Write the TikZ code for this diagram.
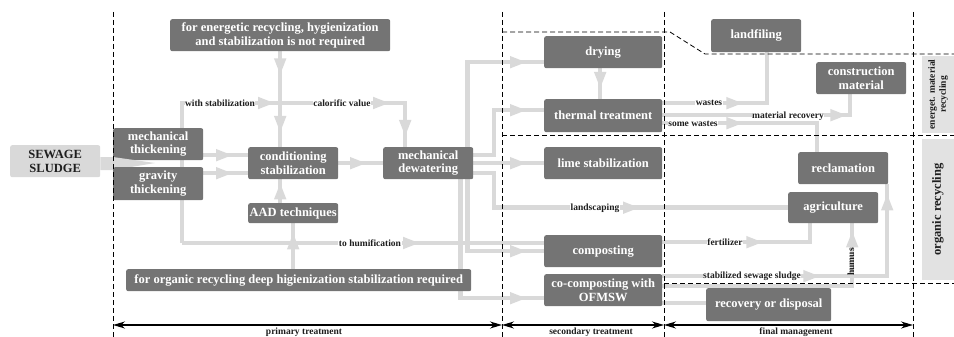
\documentclass[tikz,border=0pt]{standalone}
\usepackage{fontspec}
\setmainfont{Liberation Serif}
\usetikzlibrary{arrows.meta,decorations.markings}
\definecolor{dk}{HTML}{747474}
\definecolor{lg}{HTML}{D9D9D9}
\definecolor{sl}{HTML}{E2E2E2}
\definecolor{tx}{HTML}{1E1E1E}
\pgfdeclarelayer{bg}
\pgfsetlayers{bg,main}
\tikzset{
  box/.style={fill=dk, text=white, rounded corners=2pt, align=center, inner sep=0pt, anchor=north west,
     font=\fontsize{12.5}{13.5}\selectfont\bfseries},
  conn/.style={draw=lg, line width=4.5pt},
  tipat/.style={postaction={decorate,decoration={markings,mark=at position #1 with {\arrow{Triangle[length=17pt,width=11pt,color=lg,fill=lg]}}}}},
  lbl/.style={font=\fontsize{9.5}{10}\selectfont\bfseries, text=tx, fill=white, inner sep=0.5pt},
  dashln/.style={draw=black, line width=0.8pt, dash pattern=on 5pt off 3pt},
  dimar/.style={draw=black, line width=1.4pt, {Stealth[length=12pt,width=7pt]}-{Stealth[length=12pt,width=7pt]}},
  side/.style={fill=sl, text=tx, rotate=90, align=center, inner sep=0pt},
}
\newcommand\bx[6]{\node[box, minimum width=#4pt, minimum height=#5pt] (#1) at (#2,#3) {#6};}
\begin{document}
\begin{tikzpicture}[x=1pt,y=-1pt]
\useasboundingbox (0,0) rectangle (954,337);
% boxes
\bx{en}{170}{19}{220}{32}{for energetic recycling, hygienization\\and stabilization is not required}
\node[box, fill=lg, text=tx, minimum width=90pt, minimum height=32pt] (ss) at (10,145) {SEWAGE\\SLUDGE};
\bx{mt}{113}{128}{90}{32}{mechanical\\thickening}
\fill[lg] ([yshift=4pt]ss.east) -- (113,157) -- (155,163) -- (113,170) -- ([yshift=-9pt]ss.east) -- cycle;
\bx{gt}{113}{167}{90}{33}{gravity\\thickening}
\bx{cs}{248}{147}{90}{32}{conditioning\\stabilization}
\bx{aad}{248}{203}{90}{20}{AAD techniques}
\bx{org}{126}{269}{345}{22}{for organic recycling deep higienization stabilization required}
\bx{dew}{383}{147}{90}{32}{mechanical\\dewatering}
\bx{dry}{544}{36}{118}{32}{drying}
\bx{th}{544}{99}{118}{33}{thermal treatment}
\bx{lime}{544}{147}{118}{32}{lime stabilization}
\bx{comp}{544}{235}{118}{32}{composting}
\bx{cocomp}{544}{274}{118}{32}{co-composting with\\OFMSW}
\bx{land}{711}{19}{90}{33}{landfiling}
\bx{cm}{816}{62}{90}{32}{construction\\material}
\bx{rec}{798}{152}{90}{32}{reclamation}
\bx{agr}{788}{192}{90}{31}{agriculture}
\bx{rd}{706}{288}{125}{33}{recovery or disposal}
% side labels
\node[side, minimum width=77pt, minimum height=32pt, font=\fontsize{9.5}{11}\selectfont\bfseries] (se) at (938,94.5) {energet. material\\recycling};
\node[side, minimum width=141pt, minimum height=32pt, font=\fontsize{12.5}{14}\selectfont\bfseries] (so) at (938,209.5) {organic recycling};
% helper coordinates
\coordinate (mt1) at ([yshift=-11pt]mt.east);
\coordinate (gt1) at ([yshift=10.5pt]gt.east);
\coordinate (hj) at (182,243);
\coordinate (wj) at (182,103);
\coordinate (dw1) at ([xshift=-23pt]dew.north);
\coordinate (jx) at (494,0);
\coordinate (d1) at ([xshift=-6pt]dew.north east);
\coordinate (dr1) at ([yshift=-10pt]dry.west);
\coordinate (d2) at ([yshift=-8pt]dew.north east);
\coordinate (th1) at ([yshift=5.5pt]th.west);
\coordinate (d4) at ([yshift=-10pt]dew.east);
\coordinate (d5) at ([xshift=-6pt]dew.south east);
\coordinate (d6) at ([xshift=-13pt]dew.south east);
\coordinate (cc1) at ([yshift=-8pt]cocomp.west);
\coordinate (dt) at ([xshift=-3pt]dry.south);
\coordinate (t1) at ([yshift=12.5pt]th.east);
\coordinate (l1) at ([xshift=11pt]land.south);
\coordinate (t2) at ([yshift=0.5pt]th.east);
\coordinate (c1) at ([xshift=-11pt]cm.south);
\coordinate (t3) at ([yshift=-7.5pt]th.east);
\coordinate (r1) at ([xshift=-26pt]rec.north);
\coordinate (f1) at ([yshift=9pt]comp.east);
\coordinate (a1) at ([xshift=-23pt]agr.south);
\coordinate (s1) at ([yshift=14pt]cocomp.east);
\coordinate (r2) at ([xshift=44pt]rec.south);
\coordinate (h1) at ([yshift=4pt]cocomp.east);
\coordinate (a2) at ([xshift=19pt]agr.south);
\coordinate (rr) at ([yshift=-13pt]cocomp.east);
% connectors
\begin{pgfonlayer}{bg}
\draw[conn, tipat=24pt, tipat=-14pt] (en.south) -- (en.south |- cs.north);
\draw[conn, tipat=-3pt] (en.south |- aad.north) -- (en.south |- cs.south);
\draw[conn, tipat=-9pt] (aad.south |- org.north) -- (aad.south);
\draw[conn, tipat=-15pt] (mt1) -- (mt1 -| cs.west);
\draw[conn, tipat=-15pt] (gt1) -- (gt1 -| cs.west);
\draw[conn, tipat=-16pt] (cs.east) -- (dew.west);
\draw[conn, tipat=233pt, tipat=348pt, tipat=-10pt] (hj) -- (wj) -| (dw1);
\draw[conn, tipat=238pt] (hj) -- (hj -| comp.west);
\draw[conn, tipat=-17pt] (d1) |- (dr1);
\draw[conn, tipat=-17pt] (d2) -- (d2 -| jx) |- (th1);
\draw[conn, tipat=-17pt] (dew.east) -- (lime.west);
\draw[conn, tipat=-148pt] (d4) -- (d4 -| jx) |- (agr.west);
\draw[conn, tipat=-17pt] (d5) |- (comp.west);
\draw[conn, tipat=-17pt] (d6) |- (cc1);
\draw[conn, tipat=-10pt] (dt) -- (dt |- th.north);
\draw[conn, tipat=81pt] (t1) -| (l1);
\draw[conn, tipat=185pt] (t2) -| (c1);
\draw[conn, tipat=81pt] (t3) -| (r1);
\draw[conn, tipat=101pt] (f1) -| (a1);
\draw[conn, tipat=158pt, tipat=-9pt] (s1) -| (r2);
\draw[conn, tipat=-7pt] (h1) -| (a2);
\draw[conn] (rr) -- (rr -| rd.west);
\end{pgfonlayer}
% labels
\node[lbl] (lws) at (220,103) {with stabilization};
\node[lbl] (lcv) at (342,103) {calorific value};
\node[lbl] (lhum) at (370,243) {to humification};
\node[lbl] (lland) at (595,208) {landscaping};
\node[lbl] (lw) at (709,103) {wastes};
\node[lbl] (lmr) at (788,116) {material recovery};
\node[lbl] (lsw) at (693,124) {some wastes};
\node[lbl] (lf) at (725,242) {fertilizer};
\node[lbl] (lsss) at (752,276) {stabilized sewage sludge};
\node[lbl, fill=none, rotate=90] (lh) at (851,262) {humus};
% dashed lines
\coordinate (v1t) at (113,12); \coordinate (v1b) at (113,337);
\coordinate (v2t) at (502,12); \coordinate (v2b) at (502,337);
\coordinate (v3t) at (664,12); \coordinate (v3b) at (664,337);
\coordinate (v4t) at (913,12); \coordinate (v4b) at (913,337);
\draw[dashln] (v1t) -- (v1b);
\draw[dashln] (v2t) -- (v2b);
\draw[dashln] (v3t) -- (v3b);
\draw[dashln] (v4t) -- (v4b);
\draw[dashln] (502,32) -- (670,32) -- (705,54) -- (954,54);
\draw[dashln] (502,135) -- (954,135);
\draw[dashln] (664,283) -- (954,283);
% dimension arrows
\coordinate (p1) at (113,325); \coordinate (p2) at (502,325);
\coordinate (p3) at (664,325); \coordinate (p4) at (913,325);
\draw[dimar] (p1) -- (p2);
\draw[dimar] (p2) -- (p3);
\draw[dimar] (p3) -- (p4);
\node[lbl, fill=none] (lp) at (304,332) {primary treatment};
\node[lbl, fill=none] (lst) at (591,332) {secondary treatment};
\node[lbl, fill=none] (lfm) at (796,332) {final management};
\end{tikzpicture}
\end{document}
